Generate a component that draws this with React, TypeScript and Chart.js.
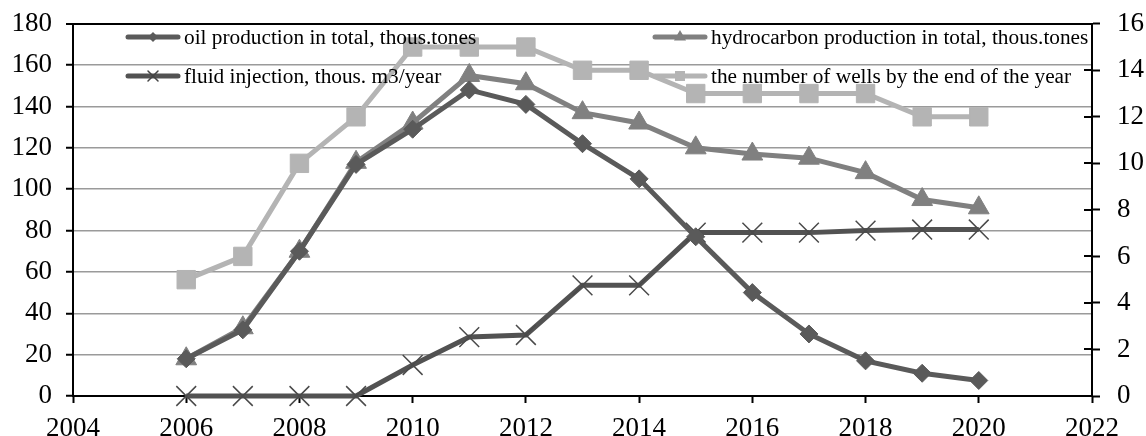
import React, { useEffect, useRef } from "react";
import { Chart, registerables } from "chart.js";

Chart.register(...registerables);

const years = [2006, 2007, 2008, 2009, 2010, 2011, 2012, 2013, 2014, 2015, 2016, 2017, 2018, 2019, 2020];
const oilProduction = [18, 32, 70, 112, 129, 148, 141, 122, 105, 77, 50, 30, 17, 11, 7.5];
const hydrocarbonProduction = [18, 33, 70, 113, 132, 155, 151, 137, 132, 120, 117, 115, 108, 95, 91];
const fluidInjection = [0, 0, 0, 0, 15, 28.5, 29.5, 53.5, 53.5, 79, 79, 79, 80, 80.5, 80.5];
const wellsCount = [5, 6, 10, 12, 15, 15, 15, 14, 14, 13, 13, 13, 13, 12, 12];

const legendLabels = [
  "oil production in total, thous.tones",
  "hydrocarbon production in total, thous.tones",
  "fluid injection, thous. m3/year",
  "the number of wells by the end of the year",
];

const FONT = "'Liberation Serif', 'Times New Roman', serif";

const C_OIL = "#5a5a5a";
const C_HYD = "#808080";
const C_FLU = "#525252";
const C_WEL = "#b4b4b4";

function drawMarker(ctx: CanvasRenderingContext2D, kind: string, x: number, y: number, r: number, color: string) {
  ctx.save();
  ctx.fillStyle = color;
  ctx.strokeStyle = color;
  ctx.beginPath();
  if (kind === "diamond") {
    ctx.moveTo(x, y - r);
    ctx.lineTo(x + r, y);
    ctx.lineTo(x, y + r);
    ctx.lineTo(x - r, y);
    ctx.closePath();
    ctx.fill();
  } else if (kind === "triangle") {
    ctx.moveTo(x, y - r);
    ctx.lineTo(x + r * 0.866, y + r * 0.5);
    ctx.lineTo(x - r * 0.866, y + r * 0.5);
    ctx.closePath();
    ctx.fill();
  } else if (kind === "cross") {
    ctx.lineWidth = 1.5;
    ctx.moveTo(x - r, y - r);
    ctx.lineTo(x + r, y + r);
    ctx.moveTo(x + r, y - r);
    ctx.lineTo(x - r, y + r);
    ctx.stroke();
  } else {
    ctx.rect(x - r, y - r, 2 * r, 2 * r);
    ctx.fill();
  }
  ctx.restore();
}

const customPlugin = {
  id: "customDecor",
  afterDraw(chart: any) {
    const ctx: CanvasRenderingContext2D = chart.ctx;
    const area = chart.chartArea;
    const y2 = chart.scales.y2;
    ctx.save();
    ctx.strokeStyle = "#000";
    ctx.lineWidth = 2;
    y2.ticks.forEach((t: any) => {
      const py = Math.round(y2.getPixelForValue(t.value));
      ctx.beginPath();
      ctx.moveTo(area.right - 8, py);
      ctx.lineTo(area.right, py);
      ctx.stroke();
    });
    ctx.restore();

    const items = [
      { label: legendLabels[0], color: C_OIL, kind: "diamond", x: 126, y: 37, r: 5 },
      { label: legendLabels[1], color: C_HYD, kind: "triangle", x: 653, y: 37, r: 7 },
      { label: legendLabels[2], color: C_FLU, kind: "cross", x: 126, y: 76, r: 5 },
      { label: legendLabels[3], color: C_WEL, kind: "square", x: 653, y: 76, r: 5 },
    ];
    ctx.save();
    items.forEach((it) => {
      ctx.strokeStyle = it.color;
      ctx.lineWidth = 5;
      ctx.lineCap = "round";
      ctx.beginPath();
      ctx.moveTo(it.x + 2, it.y);
      ctx.lineTo(it.x + 52, it.y);
      ctx.stroke();
      drawMarker(ctx, it.kind, it.x + 27, it.y, it.r, it.kind === "cross" ? "#444" : it.color);
      ctx.fillStyle = "#000";
      ctx.font = `21.3px ${FONT}`;
      ctx.textBaseline = "middle";
      ctx.textAlign = "left";
      ctx.fillText(it.label, it.x + 58, it.y + 1);
    });
    ctx.restore();
  },
};

export default function App() {
  const canvasRef = useRef<HTMLCanvasElement | null>(null);

  useEffect(() => {
    document.body.style.margin = "0";
    const canvas = canvasRef.current;
    if (!canvas) return;

    const pts = (arr: number[]) => years.map((yr, i) => ({ x: yr, y: arr[i] }));

    const chart = new Chart(canvas, {
      type: "line",
      data: {
        datasets: [
          {
            label: legendLabels[0],
            data: pts(oilProduction),
            borderColor: C_OIL,
            backgroundColor: C_OIL,
            borderWidth: 5,
            pointStyle: "rectRot",
            pointRadius: 9,
            pointBackgroundColor: C_OIL,
            pointBorderColor: C_OIL,
            pointBorderWidth: 1,
            yAxisID: "y",
            clip: false,
          },
          {
            label: legendLabels[1],
            data: pts(hydrocarbonProduction),
            borderColor: C_HYD,
            backgroundColor: C_HYD,
            borderWidth: 5,
            pointStyle: "triangle",
            pointRadius: 12,
            pointBackgroundColor: C_HYD,
            pointBorderColor: C_HYD,
            pointBorderWidth: 1,
            yAxisID: "y",
            clip: false,
          },
          {
            label: legendLabels[2],
            data: pts(fluidInjection),
            borderColor: C_FLU,
            backgroundColor: C_FLU,
            borderWidth: 5,
            pointStyle: "crossRot",
            pointRadius: 14,
            pointBorderColor: "#4a4a4a",
            pointBorderWidth: 1.5,
            yAxisID: "y",
            clip: false,
          },
          {
            label: legendLabels[3],
            data: pts(wellsCount),
            borderColor: C_WEL,
            backgroundColor: C_WEL,
            borderWidth: 5,
            pointStyle: "rect",
            pointRadius: 13,
            pointBackgroundColor: C_WEL,
            pointBorderColor: C_WEL,
            pointBorderWidth: 1,
            yAxisID: "y2",
            clip: false,
          },
        ],
      },
      options: {
        animation: false,
        responsive: true,
        maintainAspectRatio: false,
        layout: { padding: { top: 23, left: 0, right: 0, bottom: 0 } },
        plugins: {
          legend: { display: false },
          tooltip: { enabled: false },
        },
        elements: { line: { tension: 0 } },
        scales: {
          x: {
            type: "linear",
            min: 2004,
            max: 2022,
            ticks: {
              stepSize: 2,
              color: "#000",
              font: { family: FONT, size: 27, lineHeight: 1 },
              padding: 12,
              maxRotation: 0,
              callback: (v: any) => String(v),
            },
            grid: {
              drawOnChartArea: false,
              tickLength: 7,
              tickColor: "#000",
              tickWidth: 2,
            },
            border: { color: "#000", width: 2 },
            afterFit: (s: any) => {
              s.height = 40;
            },
          },
          y: {
            position: "left",
            min: 0,
            max: 180,
            ticks: {
              stepSize: 20,
              color: "#000",
              font: { family: FONT, size: 27, lineHeight: 0.5 },
              padding: 14,
            },
            grid: {
              color: (c: any) => (c.tick && c.tick.value === 180 ? "#000" : "#9a9a9a"),
              lineWidth: (c: any) => (c.tick && c.tick.value === 180 ? 2 : 1.5),
              tickLength: 7,
              tickColor: "#000",
              tickWidth: 2,
            },
            border: { color: "#000", width: 2 },
            afterFit: (s: any) => {
              s.width = 73;
            },
          },
          y2: {
            position: "right",
            min: 0,
            max: 16,
            ticks: {
              stepSize: 2,
              color: "#000",
              font: { family: FONT, size: 27, lineHeight: 0.5 },
              padding: 17,
            },
            grid: {
              drawOnChartArea: false,
              tickLength: 8,
              tickColor: "#000",
              tickWidth: 2,
            },
            border: { color: "#000", width: 2 },
            afterFit: (s: any) => {
              s.width = 54;
            },
          },
        },
      } as any,
      plugins: [customPlugin],
    });

    return () => {
      chart.destroy();
    };
  }, []);

  return (
    <div style={{ width: 1146, height: 436, position: "relative", background: "#fff" }}>
      <canvas ref={canvasRef} />
    </div>
  );
}
